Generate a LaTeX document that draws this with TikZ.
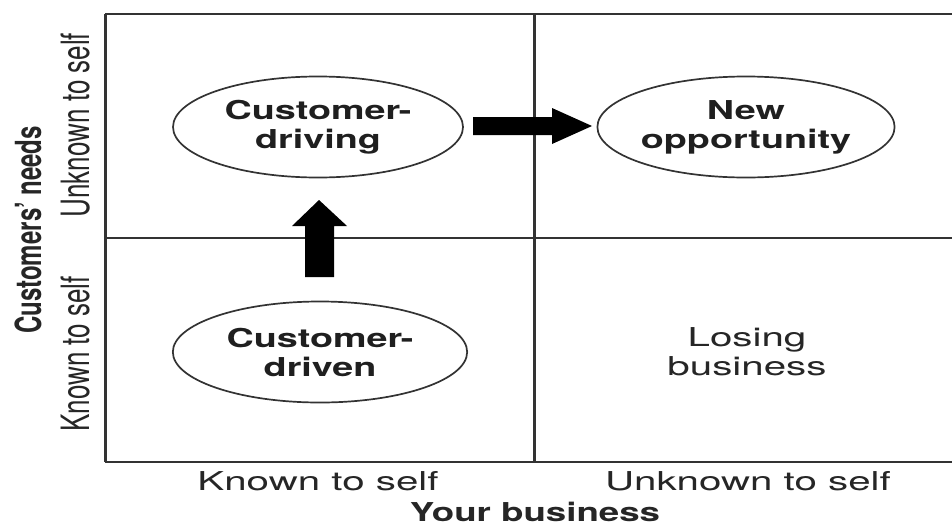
\documentclass[tikz,border=0pt]{standalone}
\usepackage{fontspec}
\setmainfont{TeX Gyre Heros}
\usetikzlibrary{shapes.geometric}
\begin{document}
\begin{tikzpicture}[x=1pt,y=-1pt,
  gridline/.style={draw=black!80, line width=2.2pt},
  vline/.style={draw=black!80, line width=3pt},
  bubble/.style={ellipse, draw=black!80, line width=1.7pt, xscale=1.45,
    inner sep=0pt, minimum height=101pt, align=center,
    font=\fontsize{26}{29}\selectfont\bfseries, text=black!88},
  celltext/.style={align=center, xscale=1.55,
    font=\fontsize{26}{29}\selectfont, text=black!85},
  sidelabel/.style={rotate=90, yscale=1.5,
    font=\fontsize{26}{29}\selectfont, text=black!85},
  blockarrow/.style={fill=black}
]
\useasboundingbox (0,0) rectangle (952,525);
\fill[white] (0,0) rectangle (952,525);

% grid corners and dividers
\coordinate (tl) at (105,14);
\coordinate (tr) at (952,14);
\coordinate (bl) at (105,462);
\coordinate (br) at (952,462);
\coordinate (mt) at (534,14);
\coordinate (mb) at (534,462);
\coordinate (ml) at (105,238);
\coordinate (mr) at (952,238);

\draw[gridline] (tl) -- (tr) (bl) -- (br) (ml) -- (mr);
\draw[vline] (tl) -- (bl) (mt) -- (mb);

% quadrant contents
\node[bubble, minimum width=200pt] (driving) at (318,127) {Customer-\\driving};
\node[bubble, minimum width=202pt] (opp) at (746,127) {New\\opportunity};
\node[bubble, minimum width=203pt] (driven) at (320,352) {Customer-\\driven};
\node[celltext] (losing) at (747,352) {Losing\\business};

% block arrows
\fill[blockarrow] (473,117) -- (552,117) -- (552,108) -- (592,126)
  -- (552,144) -- (552,135) -- (473,135) -- cycle;
\fill[blockarrow] (305,277) -- (305,226) -- (292,226) -- (319,200)
  -- (347,226) -- (334,226) -- (334,277) -- cycle;

% vertical axis labels
\node[sidelabel, font=\fontsize{24}{28}\selectfont\bfseries] (needs) at (28,230) {Customers’ needs};
\node[sidelabel] (yunk) at (76,125) {Unknown to self};
\node[sidelabel] (ykn) at (76,354) {Known to self};

% horizontal axis labels
\node[celltext, anchor=base] (xkn) at (318,490) {Known to self};
\node[celltext, anchor=base] (xunk) at (748,490) {Unknown to self};
\node[celltext, anchor=base, xscale=0.91, font=\fontsize{26}{29}\selectfont\bfseries] (axis) at (535,521) {Your business};
\end{tikzpicture}
\end{document}
